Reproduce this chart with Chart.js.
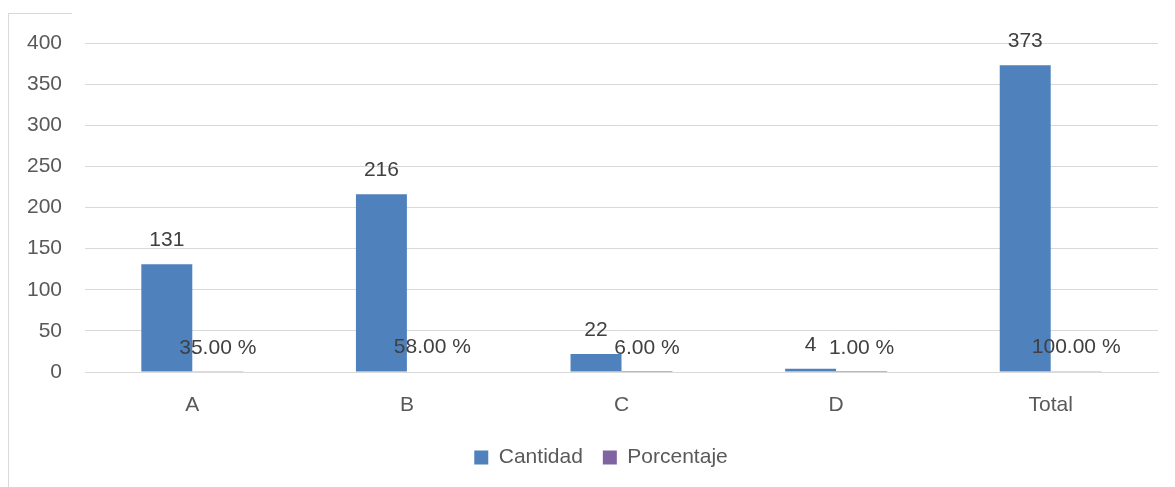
<!DOCTYPE html>
<html>
<head>
<meta charset="utf-8">
<script src="https://cdn.jsdelivr.net/npm/chart.js@4.4.0/dist/chart.umd.min.js"></script>
<style>
  html, body { margin: 0; padding: 0; background: #fff; }
  #wrap { position: relative; width: 1175px; height: 487px; }
  #frameL { position: absolute; left: 8px; top: 13px; width: 0; height: 474px; border-left: 1px solid #d9d9d9; }
  #frameT { position: absolute; left: 8px; top: 13px; width: 64px; height: 0; border-top: 1px solid #d9d9d9; }
</style>
</head>
<body>
<div id="wrap">
  <canvas id="mycanvas" width="1175" height="487"></canvas>
  <div id="frameL"></div>
  <div id="frameT"></div>
</div>
<script>
var categories = ["A", "B", "C", "D", "Total"];
var cantidad = [131, 216, 22, 4, 373];
var porcentaje = [0.35, 0.58, 0.06, 0.01, 1.00];
var porcentajeLabels = ["35.00 %", "58.00 %", "6.00 %", "1.00 %", "100.00 %"];
var yTicks = [0, 50, 100, 150, 200, 250, 300, 350, 400];

var FONT = "'Liberation Sans', Arial, sans-serif";

// draws the value labels above each bar, like the excel data labels
var barLabels = {
	id: "barLabels",
	afterLayout: function(chart) {
		// excel centres the legend a bit right of the canvas middle
		chart.legend.left += 18;
		chart.legend.right += 18;
	},
	afterDatasetsDraw: function(chart) {
		var ctx = chart.ctx;
		ctx.save();
		ctx.font = "21px " + FONT;
		ctx.fillStyle = "#404040";
		ctx.textAlign = "center";
		ctx.textBaseline = "middle";
		chart.data.datasets.forEach(function(ds, di) {
			var meta = chart.getDatasetMeta(di);
			meta.data.forEach(function(bar, i) {
				var txt = di === 0 ? String(ds.data[i]) : porcentajeLabels[i];
				ctx.fillText(txt, bar.x, bar.y - 24);
			});
		});
		ctx.restore();
	}
};

var chartdata = {
	labels: categories,
	datasets: [
		{
			label: "Cantidad",
			backgroundColor: "#4f81bd",
			data: cantidad,
			categoryPercentage: 0.475,
			barPercentage: 1.0
		},
		{
			label: "Porcentaje",
			backgroundColor: "#8064a2",
			data: porcentaje,
			categoryPercentage: 0.475,
			barPercentage: 1.0
		}
	]
};

var ctx = document.getElementById("mycanvas");

var BarGraph = new Chart(ctx, {
	type: "bar",
	data: chartdata,
	plugins: [barLabels],
	options: {
		responsive: false,
		animation: false,
		layout: { padding: { left: 8, right: 17, top: 43, bottom: 9 } },
		plugins: {
			legend: {
				position: "bottom",
				labels: {
					font: { family: FONT, size: 21 },
					color: "#595959",
					boxWidth: 14,
					boxHeight: 14,
					padding: 20
				}
			},
			tooltip: { enabled: false }
		},
		scales: {
			x: {
				grid: { display: false, drawTicks: false },
				border: { color: "#d9d9d9" },
				ticks: {
					font: { family: FONT, size: 21 },
					color: "#595959",
					padding: 21
				},
				afterFit: function(axis) { axis.height = 55; }
			},
			y: {
				min: 0,
				max: 400,
				grid: { color: "#d9d9d9", drawTicks: false },
				border: { display: false },
				afterBuildTicks: function(axis) {
					axis.ticks = yTicks.map(function(v) { return { value: v }; });
				},
				ticks: {
					font: { family: FONT, size: 21 },
					color: "#595959",
					padding: 23
				},
				afterFit: function(axis) { axis.width = 77; }
			}
		}
	}
});
</script>
</body>
</html>
